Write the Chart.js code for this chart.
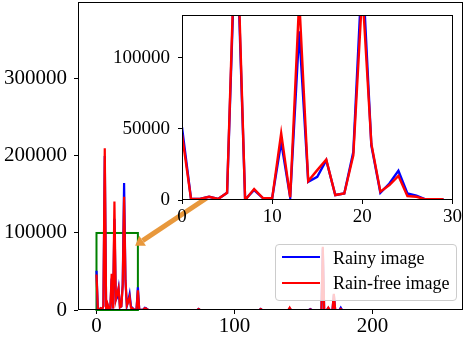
<!DOCTYPE html>
<html>
<head>
<meta charset="utf-8">
<script src="https://cdn.jsdelivr.net/npm/chart.js@4.4.0/dist/chart.umd.min.js"></script>
<style>
  html, body { margin: 0; padding: 0; background: #fff; }
  #wrap { position: relative; width: 467px; height: 341px; overflow: hidden; }
  #mainChart { position: absolute; left: 0; top: 0; }
  #insetChart { position: absolute; left: 100px; top: 0; }
  .legend {
    position: absolute; left: 275px; top: 244px; width: 182px; height: 57px;
    box-sizing: border-box; border: 1px solid #cccccc; border-radius: 4px;
    background: rgba(255, 255, 255, 0.8);
    font-family: 'Liberation Serif', 'Times New Roman', serif; font-size: 18px; color: #000;
  }
  .legend .swatch { position: absolute; left: 6px; width: 38px; height: 2px; }
  .legend .label { position: absolute; left: 57px; line-height: 18px; white-space: nowrap; }
</style>
</head>
<body>
<div id="wrap">
  <canvas id="mainChart" width="467" height="341"></canvas>
  <canvas id="insetChart" width="367" height="232"></canvas>
  <div class="legend">
    <span class="swatch" style="top:10.5px;background:#0000ff"></span>
    <span class="label" style="top:4px">Rainy image</span>
    <span class="swatch" style="top:36.5px;background:#ff0000"></span>
    <span class="label" style="top:29px">Rain-free image</span>
  </div>
</div>
<script>
// intensity levels 0..255
const levels = Array.from({length: 256}, (_, i) => i);

const rainy = [
  51000, 700, 700, 2300, 700, 5100, 200000, 300, 7000, 1200, 1200, 40700, 1900, 118600, 12800, 16300,
  27900, 3500, 4600, 33700, 165000, 38400, 5100, 11600, 20500, 4600, 3000, 500, 500, 500, 29500, 300,
  200, 300, 600, 2800, 2200, 400, 100, 0, 0, 0, 0, 0, 0, 0, 0, 0,
  0, 0, 0, 0, 0, 0, 0, 0, 0, 0, 0, 0, 0, 0, 0, 0,
  0, 0, 0, 0, 0, 0, 0, 0, 0, 0, 1500, 0, 0, 0, 0, 0,
  0, 0, 0, 0, 0, 0, 0, 0, 0, 0, 0, 0, 0, 0, 0, 0,
  0, 0, 0, 0, 0, 0, 0, 0, 0, 0, 0, 0, 0, 0, 0, 0,
  0, 0, 0, 0, 0, 0, 0, 1500, 0, 0, 0, 0, 0, 0, 0, 0,
  0, 0, 0, 0, 0, 0, 0, 0, 0, 0, 0, 0, 2000, 0, 0, 0,
  0, 0, 0, 0, 0, 0, 0, 0, 0, 0, 0, 1200, 0, 0, 0, 0,
  0, 0, 0, 0, 80000, 0, 0, 0, 2500, 0, 0, 0, 20000, 0, 0, 0,
  0, 3000, 0, 0, 0, 0, 0, 0, 0, 0, 0, 0, 0, 0, 0, 0,
  0, 0, 0, 0, 0, 0, 0, 0, 0, 0, 0, 0, 0, 0, 0, 0,
  0, 0, 0, 0, 0, 0, 0, 0, 0, 0, 0, 0, 0, 0, 0, 0,
  0, 0, 0, 0, 0, 0, 0, 0, 0, 0, 0, 0, 0, 0, 0, 0,
  0, 0, 0, 0, 0, 0, 0, 0, 0, 0, 0, 0, 0, 0, 0, 0
];

const rainFree = [
  46000, 700, 700, 2300, 700, 5100, 210000, 0, 7700, 1200, 1200, 47000, 1900, 141000, 13300, 21000,
  28400, 3500, 4600, 31400, 147000, 39500, 5800, 10500, 17000, 2800, 2300, 500, 500, 500, 25500, 300,
  200, 300, 500, 2200, 1800, 300, 100, 0, 0, 0, 0, 0, 0, 0, 0, 0,
  0, 0, 0, 0, 0, 0, 0, 0, 0, 0, 0, 0, 0, 0, 0, 0,
  0, 0, 0, 0, 0, 0, 0, 0, 0, 0, 1200, 0, 0, 0, 0, 0,
  0, 0, 0, 0, 0, 0, 0, 0, 0, 0, 0, 0, 0, 0, 0, 0,
  0, 0, 0, 0, 0, 0, 0, 0, 0, 0, 0, 0, 0, 0, 0, 0,
  0, 0, 0, 0, 0, 0, 0, 1200, 0, 0, 0, 0, 0, 0, 0, 0,
  0, 0, 0, 0, 0, 0, 0, 0, 0, 0, 0, 0, 3000, 0, 0, 0,
  0, 0, 0, 0, 0, 0, 0, 0, 0, 0, 0, 800, 0, 0, 0, 0,
  0, 0, 0, 0, 82000, 0, 0, 0, 3000, 0, 0, 0, 21000, 0, 0, 0,
  0, 1500, 0, 0, 0, 0, 0, 0, 0, 0, 0, 0, 0, 0, 0, 0,
  0, 0, 0, 0, 0, 0, 0, 0, 0, 0, 0, 0, 0, 0, 0, 0,
  0, 0, 0, 0, 0, 0, 0, 0, 0, 0, 0, 0, 0, 0, 0, 0,
  0, 0, 0, 0, 0, 0, 0, 0, 0, 0, 0, 0, 0, 0, 0, 0,
  0, 0, 0, 0, 0, 0, 0, 0, 0, 0, 0, 0, 0, 0, 0, 0
];

const seriesNames = ['Rainy image', 'Rain-free image'];
const mainXTicks = [0, 100, 200];
const mainYTicks = [0, 100000, 200000, 300000];
const insetXTicks = [0, 10, 20, 30];
const insetYTicks = [0, 50000, 100000];
const insetBins = 30;

const serif = "'Liberation Serif', 'Times New Roman', serif";

function points(values, n) {
  return values.slice(0, n).map((v, i) => ({x: levels[i], y: v}));
}

function datasets(n, width) {
  return [
    { label: seriesNames[0], data: points(rainy, n), borderColor: '#0000ff', borderWidth: width,
      pointRadius: 0, tension: 0, fill: false, order: 2, clip: 0 },
    { label: seriesNames[1], data: points(rainFree, n), borderColor: '#ff0000', borderWidth: width,
      pointRadius: 0, tension: 0, fill: false, order: 1, clip: 0 }
  ];
}

function axis(opts) {
  return {
    type: 'linear', min: opts.min, max: opts.max,
    afterBuildTicks: s => { s.ticks = opts.ticks.map(v => ({value: v})); },
    afterFit: s => {
      if (opts.width) s.width = opts.width;
      if (opts.height) s.height = opts.height;
      s.paddingLeft = 0; s.paddingRight = 0; s.paddingTop = 0; s.paddingBottom = 0;
    },
    grid: { drawOnChartArea: false, drawTicks: true, tickLength: 4, color: '#000', lineWidth: 1 },
    border: { display: false },
    ticks: { color: '#000', font: {family: serif, size: opts.font}, padding: opts.pad,
      maxRotation: 0, autoSkip: false, callback: v => String(v) }
  };
}

// frame round the plot area
const frame = {
  id: 'frame',
  afterDraw(chart) {
    const {ctx, chartArea: a} = chart;
    ctx.save();
    ctx.strokeStyle = '#000';
    ctx.lineWidth = 1;
    ctx.strokeRect(Math.round(a.left) + 0.5, Math.round(a.top) + 0.5,
      Math.round(a.width) - 1, Math.round(a.height) - 1);
    ctx.restore();
  }
};

// green box around the zoomed region, orange arrow to the inset
const zoomMark = {
  id: 'zoomMark',
  beforeDatasetsDraw(chart) {
    const {ctx, scales: {x, y}} = chart;
    const x0 = x.getPixelForValue(0), x1 = x.getPixelForValue(insetBins);
    const y0 = y.getPixelForValue(0), y1 = y.getPixelForValue(100000);
    ctx.save();
    ctx.strokeStyle = '#008000';
    ctx.lineWidth = 2;
    ctx.strokeRect(x0, y1, x1 - x0, y0 - y1);
    ctx.restore();
  },
  afterDatasetsDraw(chart) {
    const {ctx, scales: {x, y}} = chart;
    const tx = x.getPixelForValue(82), ty = y.getPixelForValue(148000);
    const hx = x.getPixelForValue(28), hy = y.getPixelForValue(83500);
    const ang = Math.atan2(hy - ty, hx - tx);
    const headLen = 9, headW = 6;
    const bx = hx - headLen * Math.cos(ang), by = hy - headLen * Math.sin(ang);
    ctx.save();
    ctx.strokeStyle = '#e8983c';
    ctx.fillStyle = '#e8983c';
    ctx.lineWidth = 5;
    ctx.beginPath();
    ctx.moveTo(tx, ty);
    ctx.lineTo(bx, by);
    ctx.stroke();
    ctx.beginPath();
    ctx.moveTo(hx, hy);
    ctx.lineTo(bx + headW * Math.sin(ang), by - headW * Math.cos(ang));
    ctx.lineTo(bx - headW * Math.sin(ang), by + headW * Math.cos(ang));
    ctx.closePath();
    ctx.fill();
    ctx.restore();
  }
};

const whiteArea = {
  id: 'whiteArea',
  beforeDraw(chart) {
    const {ctx, chartArea: a} = chart;
    ctx.save();
    ctx.fillStyle = '#fff';
    ctx.fillRect(a.left, a.top, a.width, a.height);
    ctx.restore();
  }
};

new Chart(document.getElementById('mainChart'), {
  type: 'line',
  data: { datasets: datasets(levels.length, 2.2) },
  options: {
    responsive: false, animation: false, devicePixelRatio: 1,
    layout: { padding: { top: 2, right: 4, left: 0, bottom: 0 } },
    plugins: { legend: { display: false }, tooltip: { enabled: false } },
    scales: {
      x: axis({ min: -13.4, max: 265.6, ticks: mainXTicks, height: 31, font: 21, pad: 0 }),
      y: axis({ min: 0, max: 399900, ticks: mainYTicks, width: 78, font: 21, pad: 7 })
    }
  },
  plugins: [zoomMark, frame]
});

new Chart(document.getElementById('insetChart'), {
  type: 'line',
  data: { datasets: datasets(insetBins, 2.4) },
  options: {
    responsive: false, animation: false, devicePixelRatio: 1,
    layout: { padding: { top: 15, right: 14.5, left: 0, bottom: 0 } },
    plugins: { legend: { display: false }, tooltip: { enabled: false } },
    scales: {
      x: axis({ min: 0, max: 30, ticks: insetXTicks, height: 32, font: 19, pad: 2 }),
      y: axis({ min: 0, max: 130000, ticks: insetYTicks, width: 82, font: 19, pad: 8 })
    }
  },
  plugins: [whiteArea, frame]
});
</script>
</body>
</html>
